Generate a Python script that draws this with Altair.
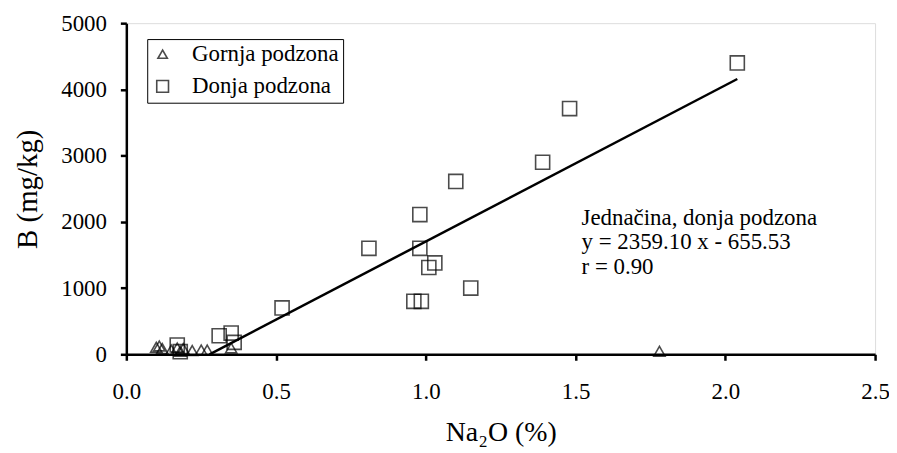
import altair as alt
import pandas as pd

# Data
donja_x = [2.04, 1.48, 1.39, 1.10, 0.98, 0.81, 0.98, 1.01, 1.03, 1.15, 0.96, 0.985, 0.52, 0.31, 0.35, 0.36, 0.17, 0.18]
donja_y = [4400, 3710, 2900, 2610, 2110, 1600, 1600, 1310, 1380, 1000, 800, 800, 700, 280, 320, 180, 140, 40]

gornja_x = [0.10, 0.11, 0.12, 0.15, 0.17, 0.18, 0.19, 0.22, 0.25, 0.27, 0.35, 1.78]
gornja_y = [100, 120, 80, 60, 90, 40, 80, 50, 60, 60, 90, 40]

line_x = [0.278, 2.04]
line_y = [0, 4157]

ann_lines = ["Jednačina, donja podzona", "y = 2359.10 x - 655.53", "r = 0.90"]
ann_x = [1.52]
ann_y = [2230]

series_names = ["Gornja podzona", "Donja podzona"]

pts = pd.DataFrame(
    {"x": gornja_x + donja_x,
     "y": gornja_y + donja_y,
     "s": [series_names[0]] * len(gornja_x) + [series_names[1]] * len(donja_x)}
)
line_df = pd.DataFrame({"x": line_x, "y": line_y})
ann_df = pd.DataFrame({"x": ann_x, "y": ann_y, "t": [ann_lines]})

FONT = "Liberation Serif, Times New Roman, serif"

TRI = "M-0.8,0.65L0.8,0.65L0,-0.75Z"
SQR = "M-1,-1L1,-1L1,1L-1,1Z"

xscale = alt.Scale(domain=[0, 2.5], nice=False)
yscale = alt.Scale(domain=[0, 5000], nice=False)

xaxis = alt.Axis(values=[0, 0.5, 1.0, 1.5, 2.0, 2.5], format=".1f", title="Na₂O (%)",
                 titleFontSize=28, titleFont=FONT, titleFontWeight="normal", titleColor="black",
                 titlePadding=16, labelFontSize=23, labelFont=FONT, labelColor="black",
                 labelPadding=20, tickSize=6, tickWidth=2.5, tickColor="black",
                 domainColor="black", domainWidth=2.5, grid=False, labelFlush=False)
yaxis = alt.Axis(values=[0, 1000, 2000, 3000, 4000, 5000], format="d", title="B (mg/kg)",
                 titleFontSize=29, titleFont=FONT, titleFontWeight="normal", titleColor="black",
                 titlePadding=18, labelFontSize=23, labelFont=FONT, labelColor="black",
                 labelPadding=14, tickSize=6, tickWidth=2.5, tickColor="black",
                 domainColor="black", domainWidth=2.5, grid=False, labelFlush=False)

points = alt.Chart(pts).mark_point(filled=False, color="black", strokeWidth=1.6, size=200).encode(
    x=alt.X("x:Q", scale=xscale, axis=xaxis),
    y=alt.Y("y:Q", scale=yscale, axis=yaxis),
    shape=alt.Shape("s:N", scale=alt.Scale(domain=series_names, range=[TRI, SQR]),
                    legend=alt.Legend(title=None, orient="none", legendX=21, legendY=16,
                                      labelFont=FONT, labelFontSize=23, labelColor="black",
                                      strokeColor="black", padding=4, symbolStrokeColor="black",
                                      symbolStrokeWidth=1.6, symbolSize=140, rowPadding=8,
                                      labelOffset=18, symbolFillColor="transparent",
                                      symbolType="circle")),
)

line = alt.Chart(line_df).mark_line(color="black", strokeWidth=2.5).encode(
    x=alt.X("x:Q", scale=xscale),
    y=alt.Y("y:Q", scale=yscale),
)

ann = alt.Chart(ann_df).mark_text(align="left", baseline="top", font=FONT, fontSize=23,
                                  color="black", lineHeight=25).encode(
    x=alt.X("x:Q", scale=xscale),
    y=alt.Y("y:Q", scale=yscale),
    text="t",
)

chart = alt.layer(line, points, ann).properties(
    width=753, height=333,
    autosize=alt.AutoSizeParams(type="none"),
    padding={"left": 119, "top": 14, "right": 14, "bottom": 96},
).configure_view(stroke="black", strokeWidth=2.5).configure(font=FONT)

chart.save("out.html", embed_options={"renderer": "svg", "actions": False})
